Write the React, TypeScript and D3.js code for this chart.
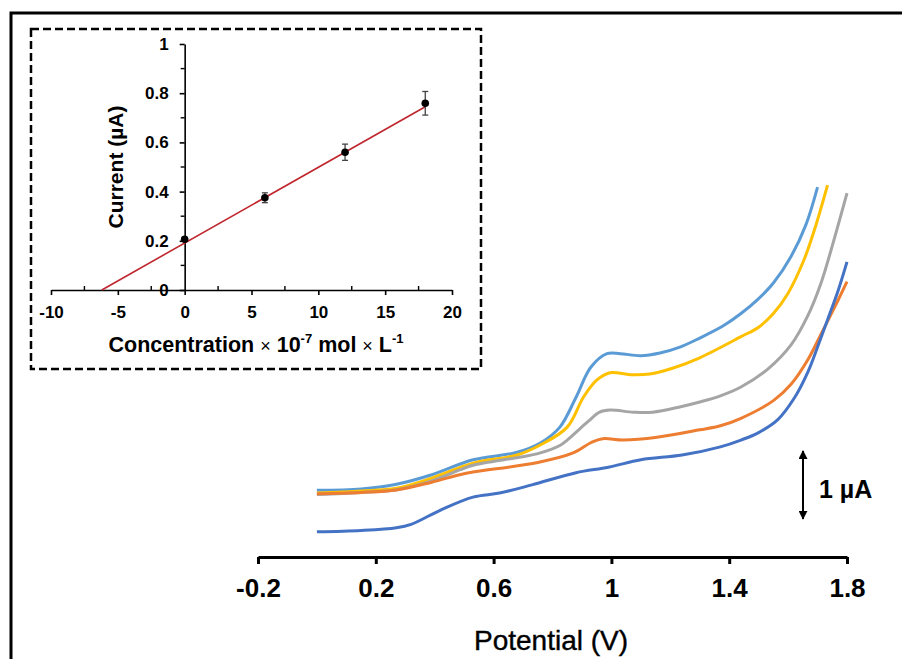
import React, { useEffect, useRef } from 'react';
import * as d3 from 'd3';

// inset: calibration plot
const concentration = [0, 6, 12, 18];
const peakCurrent = [0.206, 0.375, 0.56, 0.759];
const currentError = [0.008, 0.02, 0.033, 0.048];
const fitConc = [-6.2, 18];
const fitCurrent = [0, 0.745];
const insetXTicks = [-10, -5, 0, 5, 10, 15, 20];
const insetXMinor = [-7.5, -2.5, 2.5, 7.5, 12.5, 17.5];
const insetYTicks = [0, 0.2, 0.4, 0.6, 0.8, 1];
const insetYMinor = [0.1, 0.3, 0.5, 0.7, 0.9];

// main voltammograms, [potential (V), current (µA, offset)]
const curveLightBlue: [number, number][] = [
  [0, 0.98], [0.15, 1.0], [0.27, 1.07], [0.39, 1.21], [0.53, 1.43], [0.68, 1.54], [0.76, 1.68],
  [0.825, 1.91], [0.88, 2.35], [0.93, 2.79], [0.985, 2.99], [1.03, 2.99], [1.1, 2.96],
  [1.165, 3.0], [1.235, 3.09], [1.3, 3.22], [1.38, 3.4], [1.44, 3.58], [1.5, 3.8], [1.55, 4.03],
  [1.61, 4.42], [1.66, 4.88], [1.7, 5.44],
];
const curveYellow: [number, number][] = [
  [0, 0.94], [0.15, 0.97], [0.27, 1.01], [0.39, 1.16], [0.53, 1.38], [0.68, 1.5], [0.76, 1.65],
  [0.85, 1.91], [0.905, 2.35], [0.95, 2.6], [0.995, 2.71], [1.065, 2.68], [1.13, 2.69],
  [1.21, 2.78], [1.3, 2.93], [1.44, 3.24], [1.5, 3.38], [1.55, 3.58], [1.6, 3.88],
  [1.653, 4.36], [1.69, 4.82], [1.734, 5.47],
];
const curveGray: [number, number][] = [
  [0, 0.92], [0.15, 0.95], [0.27, 0.99], [0.39, 1.12], [0.485, 1.28], [0.53, 1.35], [0.75, 1.52],
  [0.825, 1.64], [0.85, 1.72], [0.92, 1.99], [0.96, 2.13], [0.995, 2.16], [1.075, 2.13],
  [1.14, 2.13], [1.235, 2.21], [1.3, 2.28], [1.37, 2.37], [1.44, 2.5], [1.53, 2.76],
  [1.61, 3.12], [1.667, 3.55], [1.711, 4.02], [1.745, 4.5], [1.8, 5.35],
];
const curveOrange: [number, number][] = [
  [0, 0.93], [0.15, 0.95], [0.27, 0.985], [0.39, 1.1], [0.485, 1.21], [0.53, 1.25], [0.75, 1.39],
  [0.87, 1.53], [0.93, 1.68], [0.97, 1.74], [1.04, 1.72], [1.155, 1.76], [1.3, 1.87],
  [1.37, 1.93], [1.44, 2.04], [1.55, 2.3], [1.61, 2.54], [1.667, 2.9], [1.711, 3.27],
  [1.77, 3.78], [1.8, 4.05],
];
const curveBlue: [number, number][] = [
  [0, 0.37], [0.15, 0.39], [0.27, 0.43], [0.32, 0.48], [0.42, 0.69], [0.53, 0.88], [0.62, 0.94],
  [0.73, 1.06], [0.88, 1.24], [0.99, 1.32], [1.1, 1.43], [1.24, 1.5], [1.37, 1.62],
  [1.44, 1.72], [1.5, 1.83], [1.565, 2.02], [1.62, 2.33], [1.667, 2.72], [1.701, 3.1],
  [1.735, 3.5], [1.77, 3.92], [1.8, 4.34],
];
const potentialTicks = [-0.2, 0.2, 0.6, 1, 1.4, 1.8];
const scaleBar = [0.56, 1.56];

const series = [
  { color: '#5b9bd5', points: curveLightBlue },
  { color: '#ffc000', points: curveYellow },
  { color: '#a5a5a5', points: curveGray },
  { color: '#ed7d31', points: curveOrange },
  { color: '#4472c4', points: curveBlue },
];

const FONT = '"Liberation Sans", Arial, sans-serif';

export default function App() {
  const ref = useRef<SVGSVGElement>(null);

  useEffect(() => {
    const svg = d3.select(ref.current);
    svg.selectAll('*').remove();

    // outer frame, cropped at right/bottom
    svg.append('rect')
      .attr('x', 11).attr('y', 13).attr('width', 1000).attr('height', 1000)
      .attr('fill', 'none').attr('stroke', '#000').attr('stroke-width', 3);

    // ---------- main chart ----------
    const x = d3.scaleLinear().domain([-0.2, 1.8]).range([258, 847]);
    const y = d3.scaleLinear().domain([0, 6]).range([557, 149]);

    const line = d3.line<[number, number]>()
      .x(d => x(d[0]))
      .y(d => y(d[1]))
      .curve(d3.curveCatmullRom.alpha(0.5));

    svg.append('g').selectAll('path')
      .data(series)
      .enter()
      .append('path')
      .attr('d', d => line(d.points))
      .attr('fill', 'none')
      .attr('stroke', d => d.color)
      .attr('stroke-width', 3)
      .attr('stroke-linejoin', 'round');

    const xAxis = svg.append('g')
      .attr('transform', `translate(0,${y(0)})`)
      .call(d3.axisBottom(x).tickValues(potentialTicks).tickSize(7).tickSizeOuter(0)
        .tickPadding(15).tickFormat(d => String(d)));
    xAxis.select('.domain').attr('stroke-width', 3);
    xAxis.selectAll('.tick line').attr('stroke-width', 3);
    xAxis.selectAll('text')
      .attr('font-family', FONT).attr('font-size', 26).attr('font-weight', 'bold').attr('fill', '#000');

    svg.append('text')
      .attr('x', 551).attr('y', 650)
      .attr('text-anchor', 'middle')
      .attr('font-family', FONT).attr('font-size', 28)
      .attr('stroke', '#000').attr('stroke-width', 0.4)
      .text('Potential (V)');

    // 1 µA scale bar
    const barX = 803;
    const defs = svg.append('defs');
    defs.append('marker')
      .attr('id', 'ah').attr('viewBox', '0 0 10 10')
      .attr('refX', 9).attr('refY', 5)
      .attr('markerWidth', 4.5).attr('markerHeight', 4.5)
      .attr('orient', 'auto-start-reverse')
      .append('path').attr('d', 'M0,0L10,5L0,10z').attr('fill', '#000');
    svg.append('line')
      .attr('x1', barX).attr('x2', barX)
      .attr('y1', y(scaleBar[0])).attr('y2', y(scaleBar[1]))
      .attr('stroke', '#000').attr('stroke-width', 2)
      .attr('marker-start', 'url(#ah)').attr('marker-end', 'url(#ah)');
    svg.append('text')
      .attr('x', 819).attr('y', 498)
      .attr('font-family', FONT).attr('font-size', 25).attr('font-weight', 'bold')
      .text('1 µA');

    // ---------- inset ----------
    svg.append('rect')
      .attr('x', 31).attr('y', 29).attr('width', 450).attr('height', 340)
      .attr('fill', '#fff').attr('stroke', '#000').attr('stroke-width', 2.5)
      .attr('stroke-dasharray', '8 4');

    const xi = d3.scaleLinear().domain([-10, 20]).range([51, 452]);
    const yi = d3.scaleLinear().domain([0, 1]).range([290, 44]);

    const ixAxis = svg.append('g')
      .attr('transform', `translate(0,${yi(0)})`)
      .call(d3.axisBottom(xi).tickValues(insetXTicks).tickSize(5).tickSizeOuter(0)
        .tickPadding(11).tickFormat(d => String(d)));
    ixAxis.selectAll('text')
      .attr('font-family', FONT).attr('font-size', 17).attr('font-weight', 'bold').attr('fill', '#000');
    ixAxis.selectAll('path,line').attr('stroke-width', 1.6);
    svg.append('g').selectAll('line')
      .data(insetXMinor).enter().append('line')
      .attr('x1', d => xi(d)).attr('x2', d => xi(d))
      .attr('y1', yi(0)).attr('y2', yi(0) - 4)
      .attr('stroke', '#000').attr('stroke-width', 1.4);

    const iyAxis = svg.append('g')
      .attr('transform', `translate(${xi(0)},0)`)
      .call(d3.axisLeft(yi).tickValues(insetYTicks).tickSize(5).tickSizeOuter(0)
        .tickPadding(11).tickFormat(d => String(d)));
    iyAxis.selectAll('text')
      .attr('font-family', FONT).attr('font-size', 17).attr('font-weight', 'bold').attr('fill', '#000');
    iyAxis.selectAll('path,line').attr('stroke-width', 1.6);
    svg.append('g').selectAll('line')
      .data(insetYMinor).enter().append('line')
      .attr('x1', xi(0)).attr('x2', xi(0) - 4)
      .attr('y1', d => yi(d)).attr('y2', d => yi(d))
      .attr('stroke', '#000').attr('stroke-width', 1.4);

    // fit line
    svg.append('line')
      .attr('x1', xi(fitConc[0])).attr('y1', yi(fitCurrent[0]))
      .attr('x2', xi(fitConc[1])).attr('y2', yi(fitCurrent[1]))
      .attr('stroke', '#c0262e').attr('stroke-width', 1.6);

    // error bars + points
    const pts = concentration.map((c, i) => ({ c, v: peakCurrent[i], e: currentError[i] }));
    const eb = svg.append('g').attr('stroke', '#444').attr('stroke-width', 1.3);
    pts.forEach(p => {
      eb.append('line').attr('x1', xi(p.c)).attr('x2', xi(p.c))
        .attr('y1', yi(p.v - p.e)).attr('y2', yi(p.v + p.e));
      [p.v - p.e, p.v + p.e].forEach(v => {
        eb.append('line').attr('x1', xi(p.c) - 3).attr('x2', xi(p.c) + 3)
          .attr('y1', yi(v)).attr('y2', yi(v));
      });
    });
    svg.append('g').selectAll('circle')
      .data(pts).enter().append('circle')
      .attr('cx', d => xi(d.c)).attr('cy', d => yi(d.v))
      .attr('r', 3.8).attr('fill', '#000');

    // inset axis titles
    svg.append('text')
      .attr('transform', `translate(123,167) rotate(-90)`)
      .attr('text-anchor', 'middle')
      .attr('font-family', FONT).attr('font-size', 21).attr('font-weight', 'bold')
      .text('Current (µA)');

    const xt = svg.append('text')
      .attr('x', 256).attr('y', 352)
      .attr('text-anchor', 'middle')
      .attr('font-family', FONT).attr('font-size', 21.5).attr('font-weight', 'bold');
    xt.append('tspan').text('Concentration ');
    xt.append('tspan').attr('font-weight', 'normal').attr('font-size', 18).text('×');
    xt.append('tspan').text(' 10');
    xt.append('tspan').attr('font-size', 13).attr('dy', -9).text('-7');
    xt.append('tspan').attr('dy', 9).text(' mol ');
    xt.append('tspan').attr('font-weight', 'normal').attr('font-size', 18).text('×');
    xt.append('tspan').text(' L');
    xt.append('tspan').attr('font-size', 13).attr('dy', -9).text('-1');
  }, []);

  return (
    <svg
      ref={ref}
      width={902}
      height={659}
      style={{ position: 'absolute', left: 0, top: 0, background: '#fff' }}
    />
  );
}
